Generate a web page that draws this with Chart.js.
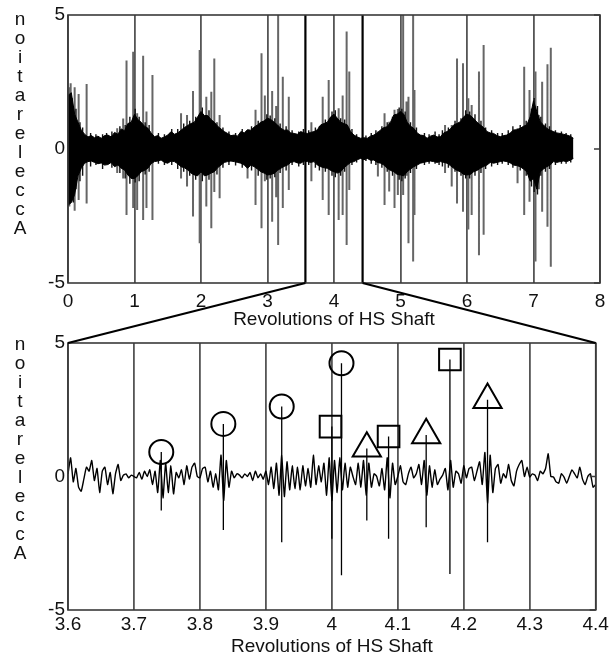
<!DOCTYPE html>
<html>
<head>
<meta charset="utf-8">
<script src="https://cdn.jsdelivr.net/npm/chart.js@4.4.1/dist/chart.umd.min.js"></script>
<style>
  html, body { margin: 0; padding: 0; background: #fff; }
  #wrap { position: relative; width: 614px; height: 658px; }
  #wrap canvas { position: absolute; left: 0; top: 0; }
</style>
</head>
<body>
<div id="wrap">
  <canvas id="overview" width="614" height="658"></canvas>
  <canvas id="detail" width="614" height="658"></canvas>
</div>
<script>
// ---- overview (0 - 7.6 revolutions) ----
// black core band, sampled every 0.05 rev
const coreStep = 0.05;
const coreHi = [
  2.0, 2.1, 1.3, 1.0, 0.7, 0.55, 0.45, 0.5, 0.42, 0.48,
  0.4, 0.5, 0.52, 0.45, 0.62, 0.55, 0.75, 0.68, 0.95, 1.0,
  1.3, 1.1, 1.0, 0.85, 0.78, 0.6, 0.46, 0.5, 0.4, 0.45,
  0.52, 0.65, 0.55, 0.6, 0.7, 0.8, 0.88, 0.95, 1.0, 1.2,
  1.4, 1.25, 1.25, 1.1, 1.0, 0.85, 0.75, 0.65, 0.58, 0.5,
  0.52, 0.48, 0.65, 0.6, 0.72, 0.7, 0.82, 0.9, 1.0, 1.05,
  1.15, 1.1, 1.0, 0.9, 0.77, 0.7, 0.71, 0.6, 0.58, 0.55,
  0.65, 0.6, 0.58, 0.62, 0.65, 0.72, 0.9, 0.95, 1.0, 1.2,
  1.3, 1.15, 1.0, 0.95, 0.9, 0.65, 0.52, 0.45, 0.4, 0.42,
  0.4, 0.48, 0.52, 0.6, 0.71, 0.8, 0.83, 1.0, 1.27, 1.3,
  1.4, 1.3, 1.0, 0.85, 0.77, 0.6, 0.52, 0.5, 0.4, 0.48,
  0.52, 0.45, 0.46, 0.6, 0.65, 0.75, 0.9, 0.95, 1.02, 1.2,
  1.3, 1.25, 1.14, 1.0, 0.9, 0.8, 0.65, 0.6, 0.58, 0.5,
  0.46, 0.5, 0.52, 0.6, 0.71, 0.72, 0.77, 0.85, 0.9, 1.2,
  1.8, 1.4, 1.02, 0.9, 0.77, 0.7, 0.65, 0.6, 0.58, 0.55,
  0.52, 0.48, 0.4
];
const coreLo = [
  -2.1, -2.0, -1.7, -1.0, -0.72, -0.53, -0.47, -0.45, -0.5, -0.55,
  -0.52, -0.6, -0.58, -0.5, -0.66, -0.6, -0.72, -0.78, -0.97, -1.1,
  -1.1, -1.0, -0.85, -0.8, -0.72, -0.55, -0.47, -0.45, -0.41, -0.5,
  -0.53, -0.45, -0.47, -0.55, -0.66, -0.7, -0.78, -0.9, -0.97, -1.0,
  -0.85, -1.0, -0.97, -0.9, -0.85, -0.7, -0.6, -0.5, -0.47, -0.45,
  -0.47, -0.5, -0.53, -0.6, -0.72, -0.6, -0.66, -0.75, -0.85, -0.9,
  -0.97, -0.95, -0.91, -0.8, -0.72, -0.65, -0.6, -0.5, -0.47, -0.52,
  -0.53, -0.45, -0.47, -0.5, -0.47, -0.6, -0.66, -0.7, -0.72, -0.8,
  -0.85, -0.9, -0.85, -0.7, -0.6, -0.5, -0.47, -0.4, -0.35, -0.4,
  -0.35, -0.42, -0.41, -0.5, -0.53, -0.6, -0.72, -0.8, -0.85, -0.95,
  -0.97, -1.0, -0.85, -0.75, -0.66, -0.6, -0.53, -0.5, -0.47, -0.45,
  -0.47, -0.5, -0.47, -0.5, -0.53, -0.62, -0.72, -0.8, -0.85, -0.95,
  -0.97, -0.95, -0.85, -0.8, -0.72, -0.65, -0.6, -0.5, -0.53, -0.5,
  -0.47, -0.45, -0.47, -0.52, -0.6, -0.62, -0.66, -0.75, -0.85, -1.2,
  -1.1, -1.5, -0.85, -0.75, -0.66, -0.6, -0.47, -0.5, -0.47, -0.45,
  -0.47, -0.42, -0.35
];
// the taller individual impacts (grey lines)
const spikeRev = [0.02, 0.04, 0.10, 0.16, 0.28, 0.74, 0.83, 0.88, 0.98, 1.04, 1.13, 1.18, 1.27,
  1.70, 1.79, 1.88, 1.98, 2.08, 2.155, 2.20, 2.28,
  2.70, 2.82, 2.91, 2.96, 3.07, 3.13, 3.16, 3.23, 3.32, 3.66,
  3.83, 3.92, 4.07, 4.13, 4.19, 4.23, 4.66, 4.76, 4.83, 4.91, 4.96,
  5.04, 5.09, 5.12, 5.19, 5.21, 5.67, 5.77, 5.85, 5.94, 6.02, 6.07, 6.18, 6.25,
  6.76, 6.86, 6.94, 7.03, 7.08, 7.13, 7.21, 7.26];
const spikeTop = [2.3, 2.45, 2.3, 2.05, 2.43, 0.77, 1.14, 3.3, 3.63, 1.33, 3.48, 1.4, 2.76,
  1.33, 1.27, 2.16, 3.69, 1.95, 2.14, 3.38, 1.27,
  0.7, 1.46, 3.57, 2.0, 2.16, 1.6, 5, 2.7, 1.95, 1.0,
  1.95, 2.57, 1.52, 2.0, 4.38, 2.89, 0.65, 1.33, 1.02, 1.46, 1.49,
  5, 1.77, 1.95, 5, 2.2, 0.9, 0.9, 3.38, 3.2, 1.89, 1.64, 2.89, 3.88,
  0.77, 3.07, 2.2, 2.89, 1.27, 2.51, 3.16, 3.78];
const spikeBot = [-2.15, -2.0, -2.3, -1.9, -2.03, -0.9, -1.1, -2.46, -2.2, -2.28, -2.65, -2.2, -2.65,
  -1.1, -1.4, -2.52, -3.52, -2.15, -2.96, -1.6, -1.84,
  -1.1, -2.09, -2.96, -1.2, -2.71, -1.8, -3.58, -2.2, -1.53, -1.2,
  -1.9, -2.46, -2.65, -2.46, -3.58, -1.53, -1.03, -2.09, -1.59, -2.2, -1.72,
  -1.72, -1.0, -3.52, -4.2, -2.46, -0.9, -1.4, -2.03, -2.34, -3.0, -2.46, -3.96, -3.2,
  -1.28, -2.46, -1.97, -4.2, -1.5, -2.34, -2.9, -4.39];
// short black spikes that make the band ragged
const minorRev = [0.06, 0.08, 0.12, 0.18, 0.22, 0.34, 0.42, 0.52, 0.58, 0.66, 0.78, 0.86, 0.93,
  1.01, 1.07, 1.16, 1.22, 1.36, 1.45, 1.56, 1.65, 1.74, 1.83, 1.92,
  2.02, 2.12, 2.24, 2.33, 2.42, 2.52, 2.62, 2.76, 2.86, 2.99,
  3.04, 3.11, 3.19, 3.28, 3.37, 3.47, 3.54, 3.62, 3.72, 3.78, 3.87, 3.97,
  4.02, 4.10, 4.16, 4.27, 4.34, 4.48, 4.56, 4.63, 4.72, 4.80, 4.88, 4.98,
  5.02, 5.07, 5.15, 5.24, 5.36, 5.43, 5.52, 5.58, 5.63, 5.72, 5.82, 5.91, 5.98,
  6.04, 6.12, 6.21, 6.28, 6.37, 6.46, 6.53, 6.62, 6.69, 6.80, 6.89, 6.97,
  7.01, 7.06, 7.11, 7.18, 7.24, 7.33, 7.42, 7.49, 7.56];
const minorTop = [1.9, 1.6, 1.5, 1.0, 0.8, 0.6, 0.55, 0.55, 0.6, 0.65, 0.85, 0.9, 1.2,
  1.5, 1.2, 1.0, 0.9, 0.6, 0.55, 0.75, 0.75, 0.95, 1.05, 1.2,
  1.55, 1.45, 1.0, 0.8, 0.65, 0.6, 0.75, 0.85, 1.05, 1.3,
  1.25, 1.15, 0.95, 0.85, 0.7, 0.65, 0.75, 0.7, 0.8, 0.85, 1.1, 1.4,
  1.45, 1.15, 1.1, 0.75, 0.55, 0.5, 0.6, 0.7, 0.85, 1.0, 1.2, 1.55,
  1.5, 1.4, 1.0, 0.8, 0.6, 0.55, 0.65, 0.55, 0.7, 0.8, 1.05, 1.15, 1.45,
  1.4, 1.3, 1.05, 0.8, 0.7, 0.6, 0.6, 0.7, 0.85, 0.9, 1.05, 1.5,
  1.9, 1.6, 1.2, 0.95, 0.85, 0.7, 0.65, 0.6, 0.55];
const minorBot = [-1.8, -2.0, -1.5, -1.2, -1.0, -0.65, -0.6, -0.75, -0.55, -0.7, -0.9, -1.1, -1.3,
  -1.25, -1.2, -0.95, -0.85, -0.55, -0.6, -0.6, -0.75, -0.85, -1.0, -1.15,
  -1.2, -1.15, -0.95, -0.7, -0.6, -0.62, -0.7, -0.8, -1.0, -1.15,
  -1.1, -1.05, -0.9, -0.8, -0.6, -0.65, -0.6, -0.6, -0.7, -0.8, -0.85, -1.0,
  -1.05, -1.0, -0.85, -0.6, -0.5, -0.45, -0.55, -0.6, -0.7, -0.85, -1.0, -1.15,
  -1.2, -1.1, -0.9, -0.75, -0.6, -0.55, -0.55, -0.6, -0.65, -0.7, -0.85, -1.0, -1.1,
  -1.1, -1.0, -0.9, -0.75, -0.65, -0.6, -0.55, -0.6, -0.7, -0.8, -1.0, -1.4,
  -1.6, -1.7, -1.0, -0.85, -0.75, -0.6, -0.55, -0.55, -0.5];
// window shown below
const zoomMarks = [3.57, 4.43];

// ---- detail (3.6 - 4.4 revolutions) ----
const detailStart = 3.6;
const detailStep = 0.004;
const detailSignal = [
  0.1, 0.7, -0.2, 0.3, -0.4, -0.55, -0.1, 0.35, 0.2, 0.6,
  -0.15, 0.3, -0.6, 0.2, 0.35, -0.3, 0.15, -0.65, 0.1, 0.45,
  -0.15, 0.05, 0.1, -0.05, 0.05, 0.0, -0.05, 0.15, -0.1, 0.2,
  0.0, 0.25, -0.3, 0.2, -0.6, 0.6, -0.8, 0.5, -0.6, 0.4,
  -0.65, 0.15, -0.05, 0.25, -0.3, 0.4, -0.1, 0.35, 0.5, 0.0,
  -0.05, 0.3, 0.35, -0.2, 0.2, -0.4, 0.1, -0.5, 0.8, -0.9,
  0.6, -0.4, 0.2, -0.05, 0.1, 0.05, -0.05, 0.1, 0.0, 0.15,
  -0.15, 0.2, -0.05, 0.1, -0.1, 0.2, -0.3, 0.35, -0.45, 0.5,
  -0.7, 0.8, -0.75, 0.55, -0.5, 0.4, -0.45, 0.35, -0.5, 0.4,
  -0.35, 0.3, -0.4, 0.8, -0.3, 0.4, -0.2, 0.5, -0.7, 0.7,
  -0.9, 0.6, -0.6, 0.7, -0.5, 0.5, -0.4, 0.35, 0.0, -0.3,
  0.5, -0.4, 0.6, -0.7, 0.5, -0.4, 0.1, 0.0, -0.35, 0.3,
  -0.5, 0.7, -0.8, 0.5, -0.3, 0.0, 0.4, -0.2, -0.3, 0.1,
  0.35, -0.05, 0.1, 0.45, -0.3, 0.6, -0.7, 0.4, -0.4, 0.25,
  -0.3, -0.1, 0.05, 0.3, -0.5, 0.6, -0.4, 0.2, 0.1, -0.25,
  0.4, -0.05, 0.3, 0.35, -0.15, 0.2, 0.55, -0.3, 0.9, -1.0,
  0.8, -0.6, 0.3, 0.45, -0.25, 0.1, -0.05, 0.45, -0.15, -0.35,
  0.2, 0.45, 0.6, 0.0, 0.35, -0.02, 0.1, 0.05, -0.15, 0.2,
  0.1, 0.3, 0.85, 0.0, -0.02, -0.2, -0.25, 0.1, -0.02, -0.25,
  0.0, 0.25, 0.1, -0.05, 0.35, -0.1, -0.3, 0.0, 0.1, -0.4,
  -0.3
];
const detailSpikeRev = [3.7414, 3.8355, 3.924, 4.0, 4.0146, 4.053, 4.086, 4.143, 4.179, 4.236];
const detailSpikeTop = [0.92, 1.97, 2.62, 1.87, 4.24, 1.05, 1.5, 1.55, 4.38, 2.87];
const detailSpikeBot = [-1.27, -2.0, -2.46, -2.33, -3.7, -1.65, -2.33, -1.9, -3.65, -2.46];
const circleRev = [3.7414, 3.8355, 3.924, 4.0146];
const circleAcc = [0.92, 1.97, 2.62, 4.24];
const squareRev = [3.998, 4.086, 4.179];
const squareAcc = [1.87, 1.5, 4.38];
const triangleRev = [4.053, 4.143, 4.236];
const triangleAcc = [1.05, 1.55, 2.87];

const FONT = '"Liberation Sans", Arial, Helvetica, sans-serif';
const INK = '#111';

// vertical segments with gaps between them
const segments = (xs, tops, bots) => {
  const out = [];
  xs.forEach((x, i) => {
    out.push({x: x, y: tops[i]}, {x: x, y: bots[i]}, {x: x, y: null});
  });
  return out;
};
const toPoints = (xs, ys) => xs.map((x, i) => ({x: x, y: ys[i]}));

// box around the plot, y label stacked letter by letter, little ticks on the right edge
const frameAndTitle = {
  id: 'frameAndTitle',
  afterDraw(chart, args, opts) {
    const {ctx, chartArea: a} = chart;
    ctx.save();
    ctx.strokeStyle = '#3a3a3a';
    ctx.lineWidth = 1.6;
    ctx.strokeRect(a.left, a.top, a.right - a.left, a.bottom - a.top);
    ctx.beginPath();
    chart.scales.y.ticks.forEach(t => {
      const y = chart.scales.y.getPixelForValue(t.value);
      ctx.moveTo(a.right - 6, y);
      ctx.lineTo(a.right, y);
    });
    ctx.stroke();
    ctx.fillStyle = INK;
    ctx.font = '19px ' + FONT;
    ctx.textAlign = 'center';
    ctx.textBaseline = 'alphabetic';
    opts.text.split('').reverse().forEach((ch, i) => {
      ctx.fillText(ch, 20, a.top + opts.offset + i * 19);
    });
    ctx.restore();
  }
};

const zoomLines = {
  id: 'zoomLines',
  afterDatasetsDraw(chart) {
    const {ctx, chartArea: a, scales} = chart;
    ctx.save();
    ctx.strokeStyle = '#000';
    ctx.lineWidth = 2.2;
    ctx.beginPath();
    zoomMarks.forEach(r => {
      const x = scales.x.getPixelForValue(r);
      ctx.moveTo(x, a.top);
      ctx.lineTo(x, a.bottom);
    });
    ctx.stroke();
    ctx.restore();
  }
};

const axisFont = {size: 19, family: FONT};

const overview = new Chart(document.getElementById('overview'), {
  type: 'line',
  data: {
    datasets: [{
      data: coreHi.map((v, i) => ({x: +(i * coreStep).toFixed(2), y: v})),
      borderColor: '#000',
      backgroundColor: '#000',
      borderWidth: 1,
      pointRadius: 0,
      fill: '+1'
    }, {
      data: coreLo.map((v, i) => ({x: +(i * coreStep).toFixed(2), y: v})),
      borderColor: '#000',
      borderWidth: 1,
      pointRadius: 0,
      fill: false
    }, {
      data: segments(minorRev, minorTop, minorBot),
      borderColor: '#111',
      borderWidth: 1.4,
      pointRadius: 0,
      spanGaps: false,
      fill: false
    }, {
      data: segments(spikeRev, spikeTop, spikeBot),
      borderColor: '#666',
      borderWidth: 2,
      pointRadius: 0,
      spanGaps: false,
      fill: false
    }]
  },
  options: {
    responsive: false,
    animation: false,
    layout: {padding: {top: 15, right: 14, bottom: 327, left: 0}},
    plugins: {
      legend: {display: false},
      tooltip: {enabled: false},
      frameAndTitle: {text: 'Acceleration', offset: 10}
    },
    scales: {
      x: {
        type: 'linear', min: 0, max: 8,
        ticks: {stepSize: 1, color: INK, font: axisFont, padding: 7, maxRotation: 0},
        grid: {color: '#555', lineWidth: 1.8, drawTicks: false},
        border: {display: false},
        title: {display: true, text: 'Revolutions of HS Shaft', color: INK, font: axisFont, padding: 0},
        afterFit: s => { s.height = 48; }
      },
      y: {
        min: -5, max: 5,
        ticks: {stepSize: 5, color: INK, font: axisFont, padding: 3},
        grid: {display: false, drawTicks: false},
        border: {display: false},
        afterFit: s => { s.width = 68; }
      }
    }
  },
  plugins: [frameAndTitle, zoomLines]
});

// lines tying the window in the top plot to the corners of the lower one
const connectors = {
  id: 'connectors',
  afterDraw(chart) {
    const {ctx, chartArea: a} = chart;
    const y0 = overview.chartArea.bottom;
    ctx.save();
    ctx.strokeStyle = '#000';
    ctx.lineWidth = 2.2;
    ctx.beginPath();
    ctx.moveTo(overview.scales.x.getPixelForValue(zoomMarks[0]), y0);
    ctx.lineTo(a.left, a.top);
    ctx.moveTo(overview.scales.x.getPixelForValue(zoomMarks[1]), y0);
    ctx.lineTo(a.right, a.top);
    ctx.stroke();
    ctx.restore();
  }
};

const marker = (xs, ys, style, r) => ({
  data: toPoints(xs, ys),
  showLine: false,
  pointStyle: style,
  pointRadius: r,
  pointBorderWidth: 2,
  pointBorderColor: '#000',
  pointBackgroundColor: 'rgba(0,0,0,0)',
  clip: false
});

const detail = new Chart(document.getElementById('detail'), {
  type: 'line',
  data: {
    datasets: [
      marker(circleRev, circleAcc, 'circle', 12),
      marker(squareRev, squareAcc, 'rect', 15.3),
      marker(triangleRev, triangleAcc, 'triangle', 16.3),
      {
        data: segments(detailSpikeRev, detailSpikeTop, detailSpikeBot),
        borderColor: '#000',
        borderWidth: 1.3,
        pointRadius: 0,
        spanGaps: false
      },
      {
        data: detailSignal.map((v, i) => ({x: +(detailStart + i * detailStep).toFixed(3), y: v})),
        borderColor: '#000',
        borderWidth: 1.4,
        pointRadius: 0,
        tension: 0.15
      }
    ]
  },
  options: {
    responsive: false,
    animation: false,
    layout: {padding: {top: 343, right: 16, bottom: 0, left: 0}},
    plugins: {
      legend: {display: false},
      tooltip: {enabled: false},
      frameAndTitle: {text: 'Acceleration', offset: 7}
    },
    scales: {
      x: {
        type: 'linear', min: 3.6, max: 4.4,
        ticks: {stepSize: 0.1, color: INK, font: axisFont, padding: 3, maxRotation: 0, autoSkip: false,
          callback: v => String(+v.toFixed(1))},
        grid: {color: '#555', lineWidth: 1.8, drawTicks: false},
        border: {display: false},
        title: {display: true, text: 'Revolutions of HS Shaft', color: INK, font: axisFont, padding: 0},
        afterFit: s => { s.height = 48; }
      },
      y: {
        min: -5, max: 5,
        ticks: {stepSize: 5, color: INK, font: axisFont, padding: 3},
        grid: {display: false, drawTicks: false},
        border: {display: false},
        afterFit: s => { s.width = 68; }
      }
    }
  },
  plugins: [frameAndTitle, connectors]
});
</script>
</body>
</html>
